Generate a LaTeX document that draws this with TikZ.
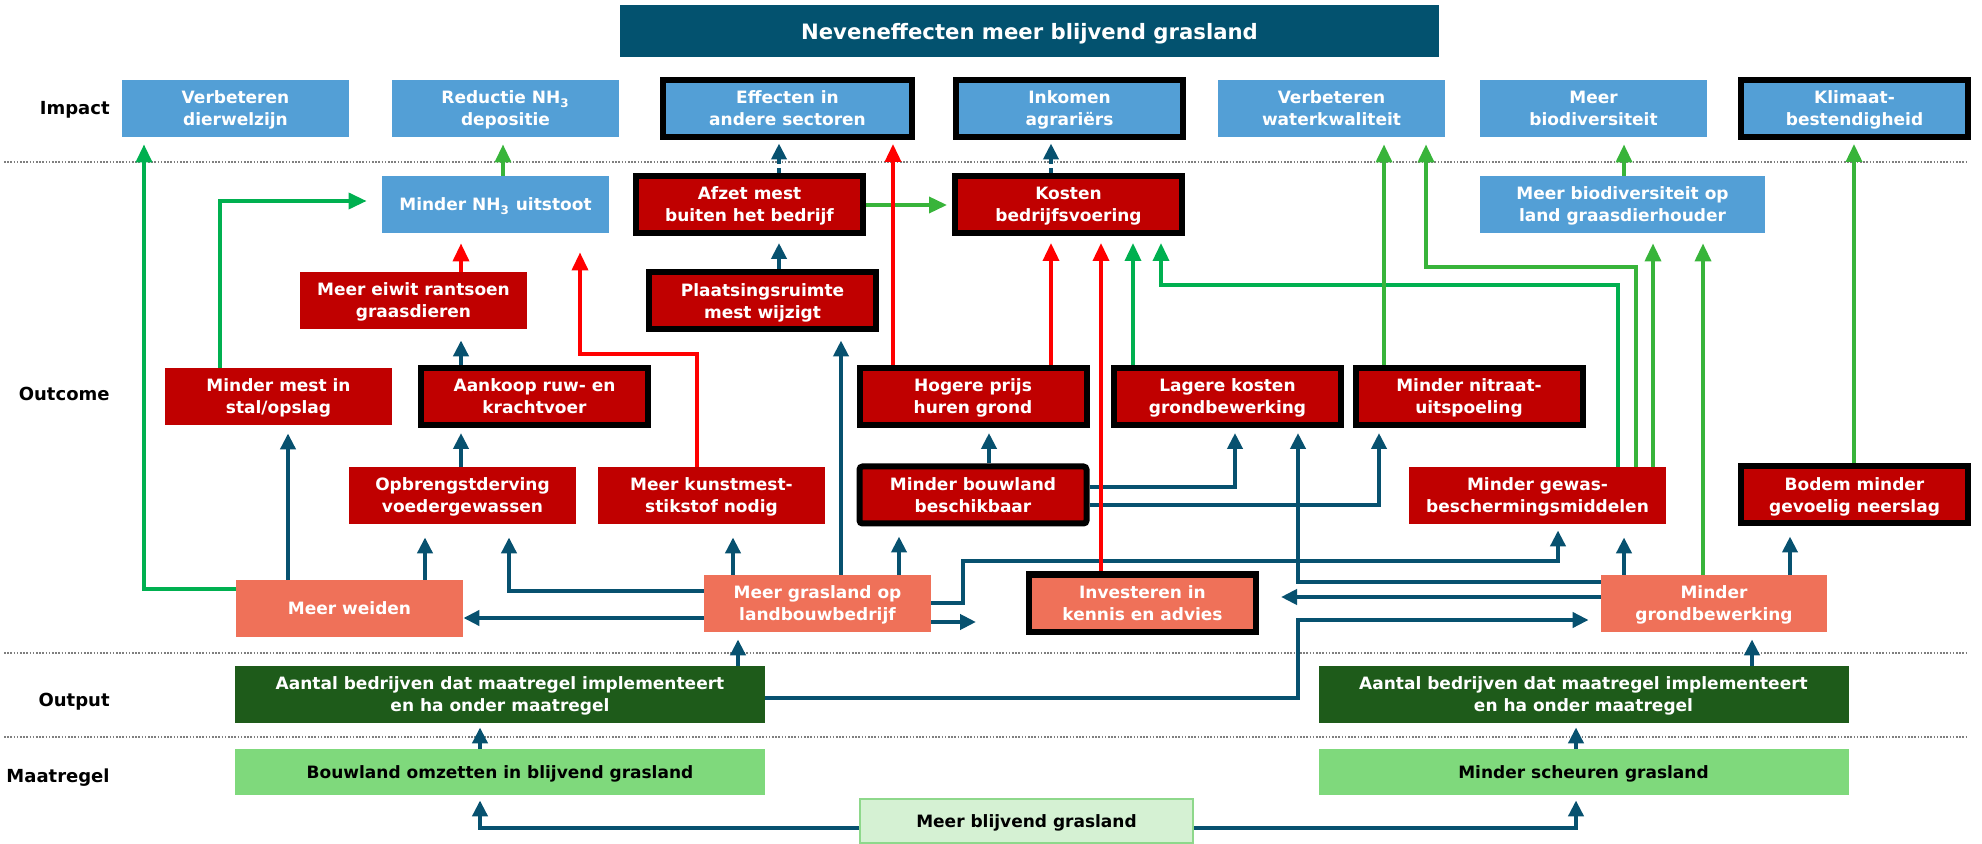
\documentclass[tikz,border=0pt]{standalone}
\usepackage{fontspec}
\setmainfont{DejaVu Sans}
\usetikzlibrary{arrows.meta,backgrounds}
\definecolor{cTitle}{HTML}{03526F}
\definecolor{cImp}{HTML}{539FD6}
\definecolor{cRed}{HTML}{C00000}
\definecolor{cSal}{HTML}{EF7159}
\definecolor{cDG}{HTML}{1E5B1A}
\definecolor{cLG}{HTML}{7FD97C}
\definecolor{cPG}{HTML}{D5F1D3}
\definecolor{cPGb}{HTML}{8ED88B}
\definecolor{cTeal}{HTML}{07516F}
\definecolor{cGA}{HTML}{00B050}
\definecolor{cGB}{HTML}{38B43A}
\definecolor{cRA}{HTML}{FF0000}
\definecolor{cSep}{HTML}{7F7F7F}
\begin{document}
\begin{tikzpicture}[x=0.5pt,y=-0.5pt,
  base/.style={inner sep=0pt, align=center, text=white, text depth=0pt,
     font=\bfseries\fontsize{8.5}{11}\selectfont,
     minimum width=113.5pt, minimum height=28.5pt},
  impbox/.style={base, fill=cImp},
  redbox/.style={base, fill=cRed},
  salbox/.style={base, fill=cSal},
  dgbox/.style={base, fill=cDG, minimum width=265pt},
  lgbox/.style={base, fill=cLG, text=black, minimum width=265pt, minimum height=23pt},
  framed/.style={draw=black, line width=3pt},
  lab/.style={anchor=east, inner sep=0pt, text depth=0pt, font=\bfseries\fontsize{9}{11}\selectfont},
  sep/.style={draw=cSep, line width=0.8pt, dash pattern=on 0.8pt off 0.8pt},
  tarr/.style={draw=cTeal, line width=2.2pt, -{Triangle[width=7.5pt,length=8pt]}},
  garr/.style={draw=cGB, line width=1.8pt, -{Triangle[width=8pt,length=9pt]}},
  gaarr/.style={garr, draw=cGA},
  rarr/.style={draw=cRA, line width=1.8pt, -{Triangle[width=8pt,length=9pt]}},
  dsh/.style={dash pattern=on 2.5pt off 2pt}
]
\useasboundingbox (0,0) rectangle (1982,844);

% title
\node[base, fill=cTitle, minimum width=409.5pt, minimum height=26pt,
      font=\bfseries\fontsize{10.6}{13}\selectfont] (title) at (1029.5,31) {Neveneffecten meer blijvend grasland};

% row labels
\node[lab] (lImpact) at (110,108) {Impact};
\node[lab] (lOutcome) at (110,394) {Outcome};
\node[lab] (lOutput) at (110,700) {Output};
\node[lab] (lMaat) at (110,776) {Maatregel};

% impact
\node[impbox] (dierw) at (235.5,108.5) {Verbeteren\\dierwelzijn};
\node[impbox] (reductie) at (505.5,108.5) {Reductie NH\textsubscript{3}\\depositie};
\node[impbox,framed,minimum width=124.5pt] (effect) at (787.5,108.5) {Effecten in\\andere sectoren};
\node[impbox,framed] (inkomen) at (1069.5,108.5) {Inkomen\\agrariërs};
\node[impbox] (water) at (1331.5,108.5) {Verbeteren\\waterkwaliteit};
\node[impbox] (biodiv) at (1593.5,108.5) {Meer\\biodiversiteit};
\node[impbox,framed] (klimaat) at (1854.5,108.5) {Klimaat-\\bestendigheid};

% outcome row 1
\node[impbox] (nh3) at (495.5,204.5) {Minder NH\textsubscript{3} uitstoot};
\node[redbox,framed] (afzet) at (749.5,204.5) {Afzet mest\\buiten het bedrijf};
\node[redbox,framed] (kosten) at (1068.5,204.5) {Kosten\\bedrijfsvoering};
\node[impbox,minimum width=142.5pt] (biodivland) at (1622.5,204.5) {Meer biodiversiteit op\\land graasdierhouder};

% outcome row 2
\node[redbox] (eiwit) at (413.5,300.5) {Meer eiwit rantsoen\\graasdieren};
\node[redbox,framed] (plaats) at (762.5,301) {Plaatsingsruimte\\mest wijzigt};

% outcome row 3
\node[redbox] (mest) at (278.5,396.5) {Minder mest in\\stal/opslag};
\node[redbox,framed] (aankoop) at (534.5,396.5) {Aankoop ruw- en\\krachtvoer};
\node[redbox,framed] (hogere) at (973,396.5) {Hogere prijs\\huren grond};
\node[redbox,framed] (lagere) at (1227.5,396.5) {Lagere kosten\\grondbewerking};
\node[redbox,framed] (nitraat) at (1469,396.5) {Minder nitraat-\\uitspoeling};

% outcome row 4
\node[redbox] (opbr) at (462.5,495.5) {Opbrengstderving\\voedergewassen};
\node[redbox] (kunst) at (711.5,495.5) {Meer kunstmest-\\stikstof nodig};
\node[redbox,framed,rounded corners=1.5pt] (bouwland) at (973,495) {Minder bouwland\\beschikbaar};
\node[redbox,minimum width=128.5pt] (gewas) at (1537.5,495.5) {Minder gewas-\\beschermingsmiddelen};
\node[redbox,framed] (bodem) at (1854.5,495) {Bodem minder\\gevoelig neerslag};

% outcome row 5
\node[salbox] (weiden) at (349.5,608.5) {Meer weiden};
\node[salbox] (grasland) at (817.5,603.5) {Meer grasland op\\landbouwbedrijf};
\node[salbox,framed] (invest) at (1142.5,603) {Investeren in\\kennis en advies};
\node[salbox,minimum width=113pt] (grond) at (1714,603.5) {Minder\\grondbewerking};

% output
\node[dgbox] (outL) at (500,694.5) {Aantal bedrijven dat maatregel implementeert\\en ha onder maatregel};
\node[dgbox] (outR) at (1583.5,694.5) {Aantal bedrijven dat maatregel implementeert\\en ha onder maatregel};

% maatregel
\node[lgbox] (matL) at (500,772) {Bouwland omzetten in blijvend grasland};
\node[lgbox] (matR) at (1583.5,772) {Minder scheuren grasland};
\node[base, fill=cPG, draw=cPGb, line width=0.8pt, text=black, minimum width=166.5pt, minimum height=22pt] (blijvend) at (1026.5,821) {Meer blijvend grasland};

\begin{scope}[on background layer]
% separators
\draw[sep] (4,162) -- (1968,162);
\draw[sep] (4,653) -- (1968,653);
\draw[sep] (4,737) -- (1968,737);

% teal connectors
\draw[tarr,dsh,shorten >=1.75pt] (afzet.north -| 779,0) -- (effect.south -| 779,0);
\draw[tarr,dsh,shorten >=1.75pt] (kosten.north -| 1051,0) -- (inkomen.south -| 1051,0);
\draw[tarr,shorten >=3.5pt] (plaats.north -| 779,0) -- (afzet.south -| 779,0);
\draw[tarr,shorten >=5.5pt] (aankoop.north -| 461,0) -- (eiwit.south -| 461,0);
\draw[tarr,shorten >=2.5pt] (opbr.north -| 461,0) -- (aankoop.south -| 461,0);
\draw[tarr,shorten >=4pt] (weiden.north -| 288,0) -- (mest.south -| 288,0);
\draw[tarr,shorten >=6.5pt] (weiden.north -| 425,0) -- (opbr.south -| 425,0);
\draw[tarr,shorten >=6.5pt] (grasland.west |- 0,591) -| (opbr.south -| 509,0);
\draw[tarr] (grasland.west |- 0,618) -- (weiden.east |- 0,618);
\draw[tarr,shorten >=6.5pt] (grasland.north -| 733,0) -- (kunst.south -| 733,0);
\draw[tarr,shorten >=4pt] (grasland.north -| 841,0) -- (plaats.south -| 841,0);
\draw[tarr,shorten >=5pt] (grasland.north -| 899,0) -- (bouwland.south -| 899,0);
\draw[tarr,shorten >=2.5pt] (bouwland.north -| 989,0) -- (hogere.south -| 989,0);
\draw[tarr,shorten >=2.5pt] (bouwland.east |- 0,487) -| (lagere.south -| 1235,0);
\draw[tarr,shorten >=2.5pt] (bouwland.east |- 0,505) -| (nitraat.south -| 1379,0);
\draw[tarr,shorten >=3pt] (grasland.east |- 0,603) -| (963,561) -| (gewas.south -| 1558,0);
\draw[tarr,shorten >=25pt] (grasland.east |- 0,622) -- (invest.west |- 0,622);
\draw[tarr,shorten >=2.5pt] (grond.west |- 0,582) -| (lagere.south -| 1298,0);
\draw[tarr,shorten >=11pt] (grond.west |- 0,597) -- (invest.east |- 0,597);
\draw[tarr,shorten >=6pt] (outL.east |- 0,698) -| (1298,620) -- (grond.west |- 0,620);
\draw[tarr,shorten >=6.5pt] (grond.north -| 1624,0) -- (gewas.south -| 1624,0);
\draw[tarr,shorten >=5pt] (grond.north -| 1790,0) -- (bodem.south -| 1790,0);
\draw[tarr,shorten >=3.5pt] (outL.north -| 738,0) -- (grasland.south -| 738,0);
\draw[tarr,shorten >=3.5pt] (outR.north -| 1752,0) -- (grond.south -| 1752,0);
\draw[tarr,shorten >=2pt] (matL.north -| 480,0) -- (outL.south -| 480,0);
\draw[tarr,shorten >=2pt] (matR.north -| 1576,0) -- (outR.south -| 1576,0);
\draw[tarr,shorten >=2.5pt] (blijvend.west |- 0,828) -| (matL.south -| 480,0);
\draw[tarr,shorten >=2.5pt] (blijvend.east |- 0,828) -| (matR.south -| 1576,0);

% green connectors
\draw[gaarr,shorten >=3.5pt] (weiden.west |- 0,589) -| (dierw.south -| 144,0);
\draw[gaarr,shorten >=7.5pt] (mest.north -| 220,0) |- (nh3.west |- 0,201);
\draw[garr,shorten >=3.5pt] (nh3.north -| 503,0) -- (reductie.south -| 503,0);
\draw[garr,shorten >=2.5pt] (afzet.east |- 0,205) -- (kosten.west |- 0,205);
\draw[gaarr,shorten >=3.5pt] (lagere.north -| 1133,0) -- (kosten.south -| 1133,0);
\draw[gaarr,shorten >=3.5pt] (gewas.north -| 1618,0) |- (1161,285) -- (kosten.south -| 1161,0);
\draw[garr,shorten >=3.5pt] (gewas.north -| 1636,0) |- (1426,267) -- (water.south -| 1426,0);
\draw[garr,shorten >=3.5pt] (nitraat.north -| 1384,0) -- (water.south -| 1384,0);
\draw[garr,shorten >=5pt] (gewas.north -| 1653,0) -- (biodivland.south -| 1653,0);
\draw[garr,shorten >=5pt] (grond.north -| 1703,0) -- (biodivland.south -| 1703,0);
\draw[garr,shorten >=3.5pt] (biodivland.north -| 1624,0) -- (biodiv.south -| 1624,0);
\draw[garr,shorten >=2pt] (bodem.north -| 1854,0) -- (klimaat.south -| 1854,0);

% red connectors
\draw[rarr,shorten >=2pt] (hogere.north -| 893,0) -- (effect.south -| 893,0);
\draw[rarr,shorten >=3.5pt] (hogere.north -| 1051,0) -- (kosten.south -| 1051,0);
\draw[rarr,shorten >=3.5pt] (invest.north -| 1101,0) -- (kosten.south -| 1101,0);
\draw[rarr,shorten >=5pt] (eiwit.north -| 461,0) -- (nh3.south -| 461,0);
\draw[rarr,shorten >=9.5pt] (kunst.north -| 697,0) |- (580,354) -- (nh3.south -| 580,0);
\end{scope}
\end{tikzpicture}
\end{document}
